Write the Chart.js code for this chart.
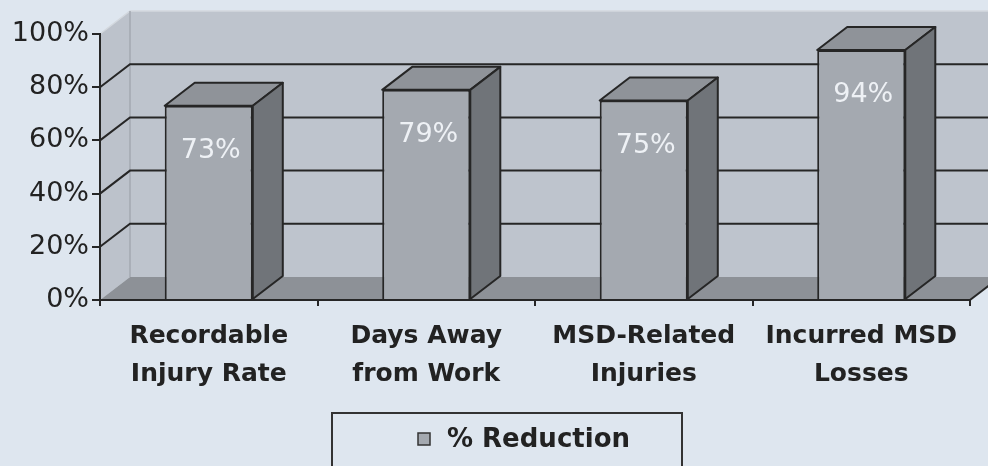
<!DOCTYPE html>
<html>
<head>
<meta charset="utf-8">
<script src="https://cdn.jsdelivr.net/npm/chart.js@4.4.1/dist/chart.umd.min.js"></script>
<style>
  html, body { margin: 0; padding: 0; background: #dee6ef; }
  canvas { display: block; }
</style>
</head>
<body>
<canvas id="chart" width="988" height="466"></canvas>
<script>
const categories = [
    ['Recordable', 'Injury Rate'],
    ['Days Away', 'from Work'],
    ['MSD-Related', 'Injuries'],
    ['Incurred MSD', 'Losses']
];
const reduction = [73, 79, 75, 94];
const seriesName = '% Reduction';
const yTickValues = [0, 20, 40, 60, 80, 100];

// 3D depth offset
const DX = 30;
const DY = -23;

const FONT = '"DejaVu Sans", "Noto Sans", sans-serif';
const dark = '#262626';

const threeD = {
    id: 'threeD',
    beforeDraw(chart) {
        const ctx = chart.ctx;
        const { left, right, top, bottom } = chart.chartArea;
        const y = chart.scales.y;
        ctx.save();
        ctx.fillStyle = '#dee6ef';
        ctx.fillRect(0, 0, chart.width, chart.height);

        // left wall
        ctx.fillStyle = '#bcc2cb';
        ctx.beginPath();
        ctx.moveTo(left, top);
        ctx.lineTo(left + DX, top + DY);
        ctx.lineTo(left + DX, bottom + DY);
        ctx.lineTo(left, bottom);
        ctx.closePath();
        ctx.fill();

        // back wall
        ctx.fillStyle = '#bec4cd';
        ctx.fillRect(left + DX, top + DY, right - left + 10, bottom - top);

        // floor
        ctx.fillStyle = '#8d9197';
        ctx.beginPath();
        ctx.moveTo(left, bottom);
        ctx.lineTo(left + DX, bottom + DY);
        ctx.lineTo(right + DX, bottom + DY);
        ctx.lineTo(right, bottom);
        ctx.closePath();
        ctx.fill();

        // wall edges
        ctx.strokeStyle = '#d3d8de';
        ctx.lineWidth = 1.5;
        ctx.beginPath();
        ctx.moveTo(left, top);
        ctx.lineTo(left + DX, top + DY);
        ctx.lineTo(right + DX + 10, top + DY);
        ctx.stroke();
        ctx.strokeStyle = '#a3a9b1';
        ctx.beginPath();
        ctx.moveTo(left + DX, top + DY);
        ctx.lineTo(left + DX, bottom + DY);
        ctx.stroke();

        // gridlines
        ctx.strokeStyle = dark;
        ctx.lineWidth = 2;
        yTickValues.forEach(v => {
            if (v === 0 || v === 100) return;
            const py = y.getPixelForValue(v);
            ctx.beginPath();
            ctx.moveTo(left, py);
            ctx.lineTo(left + DX, py + DY);
            ctx.lineTo(right + DX + 10, py + DY);
            ctx.stroke();
        });
        ctx.restore();
    },
    afterDatasetsDraw(chart) {
        const ctx = chart.ctx;
        const meta = chart.getDatasetMeta(0);
        ctx.save();
        ctx.lineJoin = 'round';
        meta.data.forEach((bar, i) => {
            const p = bar.getProps(['x', 'y', 'base', 'width'], true);
            const l = p.x - p.width / 2;
            const r = p.x + p.width / 2;
            // top face
            ctx.fillStyle = '#8f9399';
            ctx.strokeStyle = dark;
            ctx.lineWidth = 2;
            ctx.beginPath();
            ctx.moveTo(l, p.y);
            ctx.lineTo(l + DX, p.y + DY);
            ctx.lineTo(r + DX, p.y + DY);
            ctx.lineTo(r, p.y);
            ctx.closePath();
            ctx.fill();
            ctx.stroke();
            // side face
            ctx.fillStyle = '#707479';
            ctx.beginPath();
            ctx.moveTo(r, p.y);
            ctx.lineTo(r + DX, p.y + DY);
            ctx.lineTo(r + DX, p.base + DY);
            ctx.lineTo(r, p.base);
            ctx.closePath();
            ctx.fill();
            ctx.stroke();
            // value label
            ctx.fillStyle = '#eef1f5';
            ctx.font = 'normal 27px ' + FONT;
            ctx.textAlign = 'center';
            ctx.textBaseline = 'middle';
            ctx.fillText(reduction[i] + '%', p.x + 2, p.y + 45);
        });
        ctx.restore();
    },
    afterDraw(chart) {
        const ctx = chart.ctx;
        const { right, bottom } = chart.chartArea;
        ctx.save();
        // right floor edge
        ctx.strokeStyle = dark;
        ctx.lineWidth = 2;
        ctx.beginPath();
        ctx.moveTo(right, bottom);
        ctx.lineTo(right + DX, bottom + DY);
        ctx.stroke();

        // legend box
        ctx.strokeStyle = '#333';
        ctx.lineWidth = 2;
        ctx.strokeRect(332, 413, 350, 60);
        ctx.fillStyle = '#a4a9b0';
        ctx.fillRect(418, 433, 12, 12);
        ctx.lineWidth = 1.5;
        ctx.strokeRect(418, 433, 12, 12);
        ctx.fillStyle = '#222';
        ctx.font = 'bold 26px ' + FONT;
        ctx.textAlign = 'left';
        ctx.textBaseline = 'middle';
        ctx.fillText(chart.data.datasets[0].label, 447, 440);
        ctx.restore();
    }
};

new Chart(document.getElementById('chart').getContext('2d'), {
    type: 'bar',
    data: {
        labels: categories,
        datasets: [{
            label: seriesName,
            data: reduction,
            backgroundColor: '#a4a9b0',
            borderColor: dark,
            borderWidth: 2,
            categoryPercentage: 1,
            barPercentage: 0.405
        }]
    },
    options: {
        responsive: false,
        devicePixelRatio: 1,
        animation: false,
        layout: { padding: { top: 34, right: 18, left: 0, bottom: 56 } },
        plugins: {
            legend: { display: false },
            tooltip: { enabled: false }
        },
        scales: {
            x: {
                afterFit: s => { s.height = 110; },
                grid: {
                    drawOnChartArea: false,
                    offset: true,
                    tickLength: 6,
                    color: dark,
                    lineWidth: 2
                },
                border: { display: true, color: dark, width: 2 },
                ticks: {
                    color: '#222',
                    padding: 12,
                    maxRotation: 0,
                    font: { family: FONT, size: 25, weight: 'bold', lineHeight: 1.5 }
                }
            },
            y: {
                min: 0,
                max: 100,
                afterFit: s => { s.width = 100; },
                afterBuildTicks: s => { s.ticks = yTickValues.map(v => ({ value: v })); },
                grid: {
                    drawOnChartArea: false,
                    tickLength: 8,
                    color: dark,
                    lineWidth: 2
                },
                border: { display: true, color: dark, width: 2 },
                ticks: {
                    color: '#222',
                    padding: 3,
                    callback: v => v + '%',
                    font: { family: FONT, size: 27, weight: 'normal' }
                }
            }
        }
    },
    plugins: [threeD]
});
</script>
</body>
</html>
